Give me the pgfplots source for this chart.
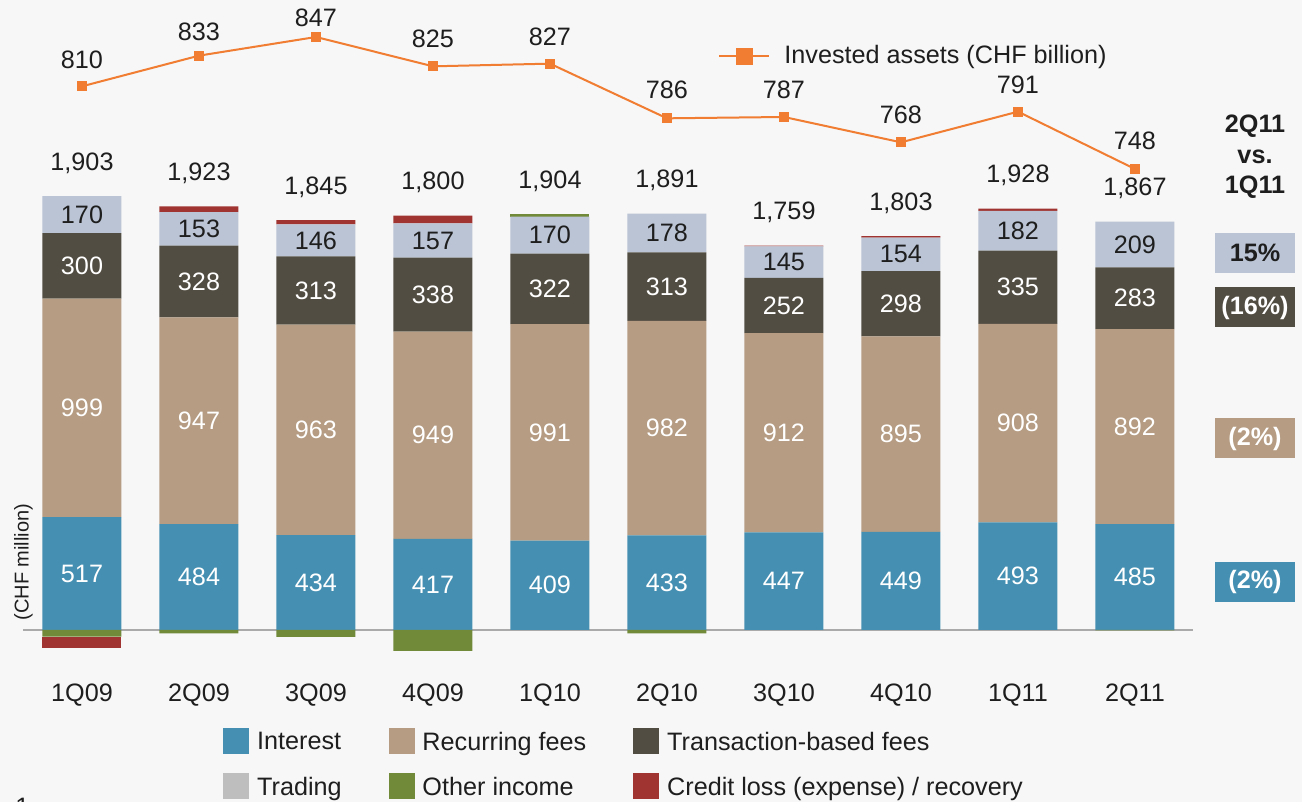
\documentclass[border=0pt]{standalone}
\usepackage{fontspec}
\setmainfont{Liberation Sans}
\usepackage{pgfplots}
\usepackage{pgfplotstable}
\pgfplotsset{compat=1.18}

\definecolor{cInt}{RGB}{69,144,178}
\definecolor{cRec}{RGB}{181,156,130}
\definecolor{cTra}{RGB}{82,77,66}
\definecolor{cTrd}{RGB}{186,196,212}
\definecolor{cTrdLeg}{RGB}{190,190,190}
\definecolor{cOth}{RGB}{112,138,58}
\definecolor{cCrd}{RGB}{160,52,48}
\definecolor{cOrg}{RGB}{240,125,50}
\definecolor{cBg}{RGB}{247,247,247}
\definecolor{cBase}{RGB}{170,170,170}
\definecolor{cTxt}{RGB}{30,30,30}

\newcommand\lbl{\fontsize{12.6}{15}\selectfont}

\pgfplotstableread{
x interest recurring transaction trading otherpos creditpos otherneg creditneg total assets lshift
0 517 999 300 170 0  0  -30 -53 1903 810 13
1 484 947 328 153 0  27 -16 0   1923 833 12
2 434 963 313 146 0  20 -31 0   1845 847 9.5
3 417 949 338 157 0  35 -96 0   1800 825 13.5
4 409 991 322 170 12 0  0   0   1904 827 13.5
5 433 982 313 178 0  0  -15 0   1891 786 14
6 447 912 252 145 0  3  0   0   1759 787 13.5
7 449 895 298 154 0  7  0   0   1803 768 13.5
8 493 908 335 182 0  10 0   0   1928 791 13.5
9 485 892 283 209 0  0  -2  0   1867 748 14
}\data

\pgfplotsset{
  /pgf/number format/assume math mode=true,
  /pgf/number format/1000 sep={,},
  base/.style={
    scale only axis, width=585pt, height=320pt,
    at={(11.75pt,71pt)}, anchor=south west,
    xmin=-0.5, xmax=9.5, clip=false,
  },
  seglab/.style={forget plot, draw=none, mark=none, nodes near coords,
    point meta=explicit,
    every node near coord/.append style={anchor=center, font=\lbl, text=#1}},
}

\begin{document}
\begin{tikzpicture}
\useasboundingbox (0,0) rectangle (651pt,401pt);
\fill[cBg] (0,0) rectangle (651pt,401pt);

% bars
\begin{axis}[base,
  ybar stacked, bar width=39.5pt,
  ymin=-137.3, ymax=2791.8,
  xtick={0,...,9},
  xticklabels={1Q09,2Q09,3Q09,4Q09,1Q10,2Q10,3Q10,4Q10,1Q11,2Q11},
  xticklabel style={anchor=center, yshift=-17.5pt, font=\lbl, text=cTxt},
  ytick=\empty,
  axis line style={draw=none}, major tick length=0pt,
  extra y ticks={0}, extra y tick labels={},
  extra y tick style={grid=major, major grid style={draw=cBase, line width=1pt}},
  ylabel={(CHF million)},
  ylabel style={at={(rel axis cs:0,0.153)}, anchor=center, font=\fontsize{10}{12}\selectfont, text=cTxt},
]
\addplot[fill=cOth, draw=none] table[x=x,y=otherneg]{\data};
\addplot[fill=cCrd, draw=none] table[x=x,y=creditneg]{\data};
\addplot[fill=cInt, draw=none] table[x=x,y=interest]{\data};
\addplot[fill=cRec, draw=none] table[x=x,y=recurring]{\data};
\addplot[fill=cTra, draw=none] table[x=x,y=transaction]{\data};
\addplot[fill=cTrd, draw=none] table[x=x,y=trading]{\data};
\addplot[fill=cOth, draw=none] table[x=x,y=otherpos]{\data};
\addplot[fill=cCrd, draw=none] table[x=x,y=creditpos]{\data};
\end{axis}

% labels and legend
\begin{axis}[base, hide axis,
  ymin=-137.3, ymax=2791.8,
  legend columns=3,
  legend cell align=left,
  legend style={at={(0.1705,-0.1063)}, anchor=north west, draw=none, fill=none,
    font=\lbl, text=cTxt, inner sep=0pt, nodes={inner sep=0pt}, row sep=9.5pt,
    /tikz/every even column/.append style={column sep=23.5pt},
    /tikz/every odd column/.append style={column sep=4pt}},
]
\addlegendimage{legend image code/.code={\fill[cInt] (0pt,-5.5pt) rectangle (12.5pt,7pt);}}
\addlegendentry{Interest}
\addlegendimage{legend image code/.code={\fill[cRec] (0pt,-5.5pt) rectangle (12.5pt,7pt);}}
\addlegendentry{Recurring fees}
\addlegendimage{legend image code/.code={\fill[cTra] (0pt,-5.5pt) rectangle (12.5pt,7pt);}}
\addlegendentry{Transaction-based fees}
\addlegendimage{legend image code/.code={\fill[cTrdLeg] (0pt,-5.5pt) rectangle (12.5pt,7pt);}}
\addlegendentry{Trading}
\addlegendimage{legend image code/.code={\fill[cOth] (0pt,-5.5pt) rectangle (12.5pt,7pt);}}
\addlegendentry{Other income}
\addlegendimage{legend image code/.code={\fill[cCrd] (0pt,-5.5pt) rectangle (12.5pt,7pt);}}
\addlegendentry{Credit loss (expense) / recovery}

\addplot[seglab=white] table[x=x, y expr=\thisrow{interest}/2, meta=interest]{\data};
\addplot[seglab=white] table[x=x, y expr=\thisrow{interest}+\thisrow{recurring}/2, meta=recurring]{\data};
\addplot[seglab=white] table[x=x, y expr=\thisrow{interest}+\thisrow{recurring}+\thisrow{transaction}/2, meta=transaction]{\data};
\addplot[seglab=cTxt] table[x=x, y expr=\thisrow{interest}+\thisrow{recurring}+\thisrow{transaction}+\thisrow{trading}/2, meta=trading]{\data};
\addplot[seglab=cTxt, every node near coord/.append style={yshift=16.5pt}] table[x=x,
  y expr=\thisrow{interest}+\thisrow{recurring}+\thisrow{transaction}+\thisrow{trading}+\thisrow{otherpos}+\thisrow{creditpos}, meta=total]{\data};
\end{axis}

% invested assets line
\begin{axis}[base, hide axis,
  ymin=379.75, ymax=859.75,
  legend style={at={(0.5936,0.9437)}, anchor=west, draw=none, fill=none,
    font=\lbl, text=cTxt, inner sep=0pt, nodes={inner sep=0pt},
    /tikz/every odd column/.append style={column sep=7pt}},
  legend image code/.code={\draw[cOrg, line width=1pt] (0pt,0pt) -- (25pt,0pt);
    \fill[cOrg] (9pt,-3.75pt) rectangle (16.5pt,3.75pt);},
]
\addplot[color=cOrg, line width=1pt, mark=square*, mark size=2pt,
  mark options={fill=cOrg, draw=cOrg},
  nodes near coords,
  visualization depends on={\thisrow{lshift} \as \lshift},
  every node near coord/.append style={anchor=center, yshift=\lshift pt, font=\lbl, text=cTxt}]
  table[x=x,y=assets]{\data};
\addlegendentry{Invested assets (CHF billion)}
\end{axis}

% 2Q11 vs 1Q11 annotations
\node[align=center, font=\lbl\bfseries, text=cTxt, inner sep=0pt] at (627.5pt,322.5pt) {2Q11\\[0.2pt]vs.\\[0.2pt]1Q11};
\node[fill=cTrd, text=cTxt, font=\lbl\bfseries, minimum width=40pt, minimum height=20pt, inner sep=0pt] at (627.5pt,274.5pt) {15\%};
\node[fill=cTra, text=white, font=\lbl\bfseries, minimum width=40pt, minimum height=20pt, inner sep=0pt] at (627.5pt,247.25pt) {(16\%)};
\node[fill=cRec, text=white, font=\lbl\bfseries, minimum width=40pt, minimum height=20pt, inner sep=0pt] at (627.5pt,181.75pt) {(2\%)};
\node[fill=cInt, text=white, font=\lbl\bfseries, minimum width=40pt, minimum height=20pt, inner sep=0pt] at (627.5pt,110pt) {(2\%)};
\node[anchor=north west, inner sep=0pt, font=\lbl, text=cTxt] at (7.5pt,2pt) {1};
\end{tikzpicture}
\end{document}
